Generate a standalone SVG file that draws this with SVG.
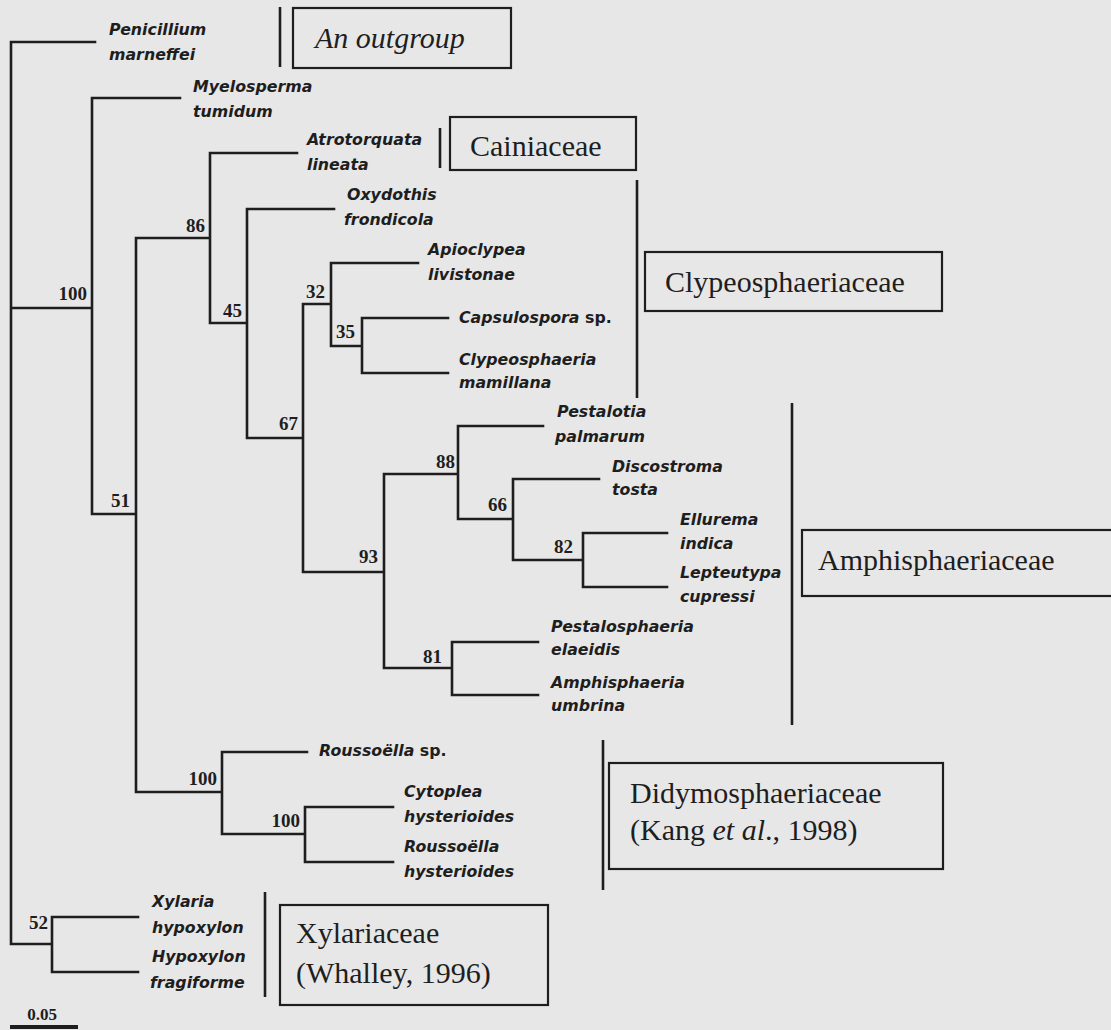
<svg xmlns="http://www.w3.org/2000/svg" width="1111" height="1030" viewBox="0 0 1111 1030">
<style>
.e{fill:none;stroke:#1e1e1e;stroke-width:2.6;stroke-linecap:square}
.bar{fill:none;stroke:#1e1e1e;stroke-width:2.6}
.box{fill:none;stroke:#1e1e1e;stroke-width:2.2}
.sp{font-family:"DejaVu Sans",sans-serif;font-weight:bold;font-style:italic;font-size:15.8px;fill:#1e1e1e}
.bs{font-family:"Liberation Serif",serif;font-weight:bold;font-size:19px;fill:#1e1e1e;text-anchor:end}
.fam{font-family:"Liberation Serif",serif;font-size:30px;fill:#1e1e1e}
.up{font-style:normal}
</style>
<rect width="1111" height="1030" fill="#e7e7e7"/>
<g id="connectors">
<path class="e" d="M11 42V944M11 42H95M11 308H92M92 98V514M92 98H180M92 514H136M136 238V792M136 238H210M210 153V323M210 153H297M210 323H247M247 209V438M247 209H334M247 438H303M303 304V572M303 304H331M331 263V346M331 263H418M331 346H362M362 318V373M362 318H448M362 373H448M303 572H384M384 474V668M384 474H458M458 426V519M458 426H543M458 519H513M513 479V560M513 479H599M513 560H583M583 533V587M583 533H667M583 587H667M384 668H452M452 642V695M452 642H538M452 695H538M136 792H222M222 752V834M222 752H307M222 834H305M305 807V862M305 807H393M305 862H393M11 944H52M52 917V972M52 917H138M52 972H138"/>
</g>
<g id="bootstrap">
<text class="bs" x="87" y="300">100</text>
<text class="bs" x="130" y="507">51</text>
<text class="bs" x="205" y="232">86</text>
<text class="bs" x="242" y="317">45</text>
<text class="bs" x="298" y="430">67</text>
<text class="bs" x="325" y="298">32</text>
<text class="bs" x="355" y="338">35</text>
<text class="bs" x="378" y="563">93</text>
<text class="bs" x="455" y="468">88</text>
<text class="bs" x="507" y="511">66</text>
<text class="bs" x="573" y="553">82</text>
<text class="bs" x="442" y="663">81</text>
<text class="bs" x="217" y="785">100</text>
<text class="bs" x="300" y="827">100</text>
<text class="bs" x="48" y="929">52</text>
</g>
<g id="taxon-penicillium"><text class="sp" x="109" y="35">Penicillium</text><text class="sp" x="109" y="60">marneffei</text></g>
<g id="taxon-myelosperma"><text class="sp" x="193" y="92">Myelosperma</text><text class="sp" x="193" y="117">tumidum</text></g>
<g id="taxon-atrotorquata"><text class="sp" x="307" y="145">Atrotorquata</text><text class="sp" x="307" y="170">lineata</text></g>
<g id="taxon-oxydothis"><text class="sp" x="347" y="200">Oxydothis</text><text class="sp" x="344" y="225">frondicola</text></g>
<g id="taxon-apioclypea"><text class="sp" x="428" y="255">Apioclypea</text><text class="sp" x="428" y="280">livistonae</text></g>
<g id="taxon-capsulospora"><text class="sp" x="459" y="323">Capsulospora <tspan class="up">sp.</tspan></text></g>
<g id="taxon-clypeosphaeria"><text class="sp" x="459" y="365">Clypeosphaeria</text><text class="sp" x="459" y="388">mamillana</text></g>
<g id="taxon-pestalotia"><text class="sp" x="557" y="417">Pestalotia</text><text class="sp" x="555" y="442">palmarum</text></g>
<g id="taxon-discostroma"><text class="sp" x="612" y="472">Discostroma</text><text class="sp" x="612" y="495">tosta</text></g>
<g id="taxon-ellurema"><text class="sp" x="680" y="525">Ellurema</text><text class="sp" x="680" y="549">indica</text></g>
<g id="taxon-lepteutypa"><text class="sp" x="680" y="578">Lepteutypa</text><text class="sp" x="680" y="602">cupressi</text></g>
<g id="taxon-pestalosphaeria"><text class="sp" x="551" y="632">Pestalosphaeria</text><text class="sp" x="551" y="655">elaeidis</text></g>
<g id="taxon-amphisphaeria"><text class="sp" x="551" y="688">Amphisphaeria</text><text class="sp" x="551" y="711">umbrina</text></g>
<g id="taxon-roussoella-sp"><text class="sp" x="319" y="756">Roussoëlla <tspan class="up">sp.</tspan></text></g>
<g id="taxon-cytoplea"><text class="sp" x="404" y="797">Cytoplea</text><text class="sp" x="404" y="822">hysterioides</text></g>
<g id="taxon-roussoella-hyst"><text class="sp" x="404" y="852">Roussoëlla</text><text class="sp" x="404" y="877">hysterioides</text></g>
<g id="taxon-xylaria"><text class="sp" x="152" y="907">Xylaria</text><text class="sp" x="152" y="933">hypoxylon</text></g>
<g id="taxon-hypoxylon"><text class="sp" x="152" y="962">Hypoxylon</text><text class="sp" x="150" y="988">fragiforme</text></g>
<g id="group-outgroup"><path class="bar" d="M280 7V67"/><rect class="box" x="293" y="8" width="218" height="60"/><text class="fam" x="315" y="48" font-style="italic">An outgroup</text></g>
<g id="group-cainiaceae"><path class="bar" d="M440 128V168"/><rect class="box" x="450" y="117" width="186" height="53"/><text class="fam" x="470" y="156">Cainiaceae</text></g>
<g id="group-clypeosphaeriaceae"><path class="bar" d="M637 180V398"/><rect class="box" x="645" y="252" width="297" height="59"/><text class="fam" x="665" y="292">Clypeosphaeriaceae</text></g>
<g id="group-amphisphaeriaceae"><path class="bar" d="M792 403V725"/><rect class="box" x="802" y="530" width="320" height="66"/><text class="fam" x="818" y="570">Amphisphaeriaceae</text></g>
<g id="group-didymosphaeriaceae"><path class="bar" d="M603 740V890"/><rect class="box" x="609" y="763" width="334" height="106"/><text class="fam" x="630" y="803">Didymosphaeriaceae</text><text class="fam" x="630" y="840">(Kang <tspan font-style="italic">et al</tspan>., 1998)</text></g>
<g id="group-xylariaceae"><path class="bar" d="M265 892V997"/><rect class="box" x="280" y="905" width="268" height="100"/><text class="fam" x="296" y="943">Xylariaceae</text><text class="fam" x="296" y="983">(Whalley, 1996)</text></g>
<g id="scale"><text class="bs" x="42" y="1020" style="text-anchor:middle;font-size:17px">0.05</text><path d="M10 1027H78" stroke="#1e1e1e" stroke-width="4"/></g>
</svg>
